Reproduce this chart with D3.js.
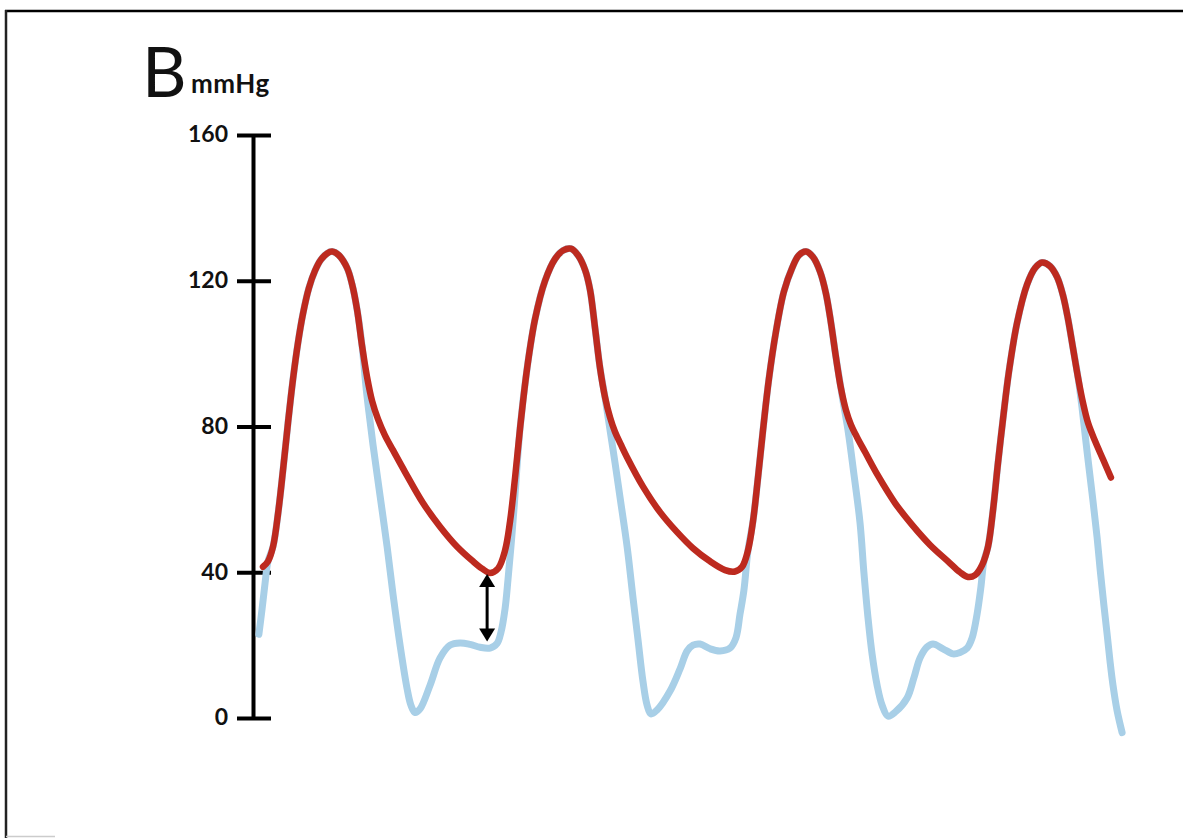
<!DOCTYPE html>
<html><head><meta charset="utf-8">
<script src="https://cdn.jsdelivr.net/npm/d3@7"></script>
<style>html,body{margin:0;padding:0;background:#fff;} svg{display:block;}</style>
</head><body>
<svg id="c" width="1183" height="838"></svg>
<script>
// ---- data: [time (ms), pressure (mmHg)] ----
const panelLabel = "B";
const unitLabel = "mmHg";
const yTicks = [0, 40, 80, 120, 160];
const yTickLabels = ["0", "40", "80", "120", "160"];

// red trace
const redTrace = [
  [17,41.5],[34,43],[51,47],[68,56],[85,68],[102,81],[119,93],[136,103],[153,111],[173,118],[194,122.8],[214,125.8],[235,127.5],[252,128],
  [275,127],[303,123.5],[320,119],[337,112],[354,102],[371,93.5],[388,87],[408,82],[432,77.5],[459,73.5],[500,67.5],[561,59],[619,52.5],[677,47],[731,43],[762,41],[789,39.8],
  [816,41],[840,46],[857,54],[874,66],[891,79.5],[915,96],[942,109.5],[976,120],[1010,126],[1037,128.3],[1064,128.8],
  [1088,127],[1112,123],[1129,117.5],[1146,107],[1163,96],[1180,88],[1197,82.5],[1214,78.5],[1234,75],[1255,71.5],[1309,63.5],[1367,56.5],[1425,51],[1479,46.6],[1537,43],[1588,40.6],[1622,40.2],
  [1646,41.5],[1666,46],[1683,54],[1700,66],[1717,79],[1737,93],[1761,106],[1788,117],[1816,123.5],[1839,127],[1863,128],
  [1887,126.5],[1911,122.5],[1931,116.5],[1948,108.5],[1965,99],[1982,90.5],[1999,84.5],[2016,80.5],[2037,77],[2064,73],[2108,66.5],[2166,59],[2224,53],[2285,47.5],[2346,43],[2387,40],[2414,38.7],[2438,39.2],
  [2462,42],[2482,47],[2499,57],[2516,70],[2533,82],[2553,95],[2581,108.5],[2615,119],[2642,123.5],[2666,125],
  [2693,124],[2717,121],[2737,116],[2754,109.5],[2771,101.5],[2788,93.5],[2805,86.5],[2822,81],[2846,76],[2873,71],[2900,66]
];

// blue trace
const blueTrace = [
  [3,23],[14,30],[24,37],[34,43],[51,47],[68,56],[85,68],[102,81],[119,93],[136,103],[153,111],[173,118],[194,122.8],[214,125.8],[235,127.5],[252,128],
  [275,127],[303,123.5],[320,119],[337,112],[354,102],
  [367,91],[377,84],[391,75],[415,61],[439,47],[459,34],[483,20],[507,8],[520,3.5],[534,1.5],[551,2.5],[585,9],[619,16.5],[653,20],[687,20.6],[721,20.2],[755,19.4],[789,19.2],[813,20.5],[826,23.5],[840,30],[850,38],[860,47],[870,57],
  [891,79.5],[915,96],[942,109.5],[976,120],[1010,126],[1037,128.3],[1064,128.8],[1088,127],[1112,123],[1129,117.5],[1146,107],[1163,96],[1180,88],
  [1197,79],[1214,70],[1231,60.5],[1255,47],[1275,33],[1292,21.5],[1309,10],[1323,3.5],[1336,1.1],[1357,2.2],[1401,7.4],[1435,13.5],[1459,18.4],[1479,20],[1503,20.3],[1537,19],[1571,18.4],[1605,19.2],[1625,22],[1639,28.6],[1652,35],
  [1666,46],[1683,54],[1700,66],[1717,79],[1737,93],[1761,106],[1788,117],[1816,123.5],[1839,127],[1863,128],[1887,126.5],[1911,122.5],[1931,116.5],[1948,108.5],[1965,99],[1982,90.5],
  [1989,87],[2006,79],[2026,67],[2047,53.5],[2060,40],[2074,27.5],[2088,17.5],[2105,9],[2122,3.5],[2142,0.5],[2169,1.8],[2207,5.5],[2230,11],[2251,16.5],[2275,19.5],[2295,20.3],[2329,19],[2363,17.6],[2387,18],[2411,19.2],[2428,22],[2445,28.6],[2458,36],[2468,43],
  [2482,47],[2499,57],[2516,70],[2533,82],[2553,95],[2581,108.5],[2615,119],[2642,123.5],[2666,125],[2693,124],[2717,121],[2737,116],[2754,109.5],[2771,101.5],[2788,93.5],
  [2802,85],[2819,73],[2839,59.5],[2853,49.5],[2863,41],[2876,31],[2887,23],[2897,15.5],[2907,9],[2921,2],[2938,-4]
];

// double-headed arrow marking the diastolic gap
const arrowTime = 779;
const arrowRange = [39.5, 21];

// ---- drawing ----
const svg = d3.select("#c");
const W = 1183, H = 838;
svg.append("rect").attr("width", W).attr("height", H).attr("fill", "#fff");

// frame remnants
svg.append("line").attr("x1", 5).attr("x2", W).attr("y1", 11).attr("y2", 11)
  .attr("stroke", "#000").attr("stroke-width", 2.5);
svg.append("line").attr("x1", 6).attr("x2", 6).attr("y1", 10).attr("y2", H)
  .attr("stroke", "#222").attr("stroke-width", 2.5);
svg.append("line").attr("x1", 6).attr("x2", 55).attr("y1", 836.5).attr("y2", 836.5)
  .attr("stroke", "#ccc").attr("stroke-width", 1.5);

const x = d3.scaleLinear().domain([0, 3000]).range([258, 258 + 3000 / 3.4]);
const y = d3.scaleLinear().domain([0, 160]).range([718, 135]);

const axisX = 253;
const axis = d3.axisLeft(y)
  .tickValues(yTicks)
  .tickFormat((d, i) => yTickLabels[i])
  .tickSizeInner(16)
  .tickSizeOuter(0)
  .tickPadding(10);

const ag = svg.append("g").attr("transform", `translate(${axisX},0)`).call(axis);
ag.select(".domain").attr("stroke", "#000").attr("stroke-width", 4);
ag.selectAll(".tick line").attr("x1", -16).attr("x2", 18)
  .attr("stroke", "#000").attr("stroke-width", 4);
ag.selectAll(".tick text")
  .attr("x", -25)
  .attr("dy", "0.3em")
  .attr("fill", "#111")
  .style("font-family", "Lato, 'Open Sans', sans-serif")
  .style("font-weight", "bold")
  .style("font-size", "23px");

// Panel label
svg.append("text").attr("x", 142).attr("y", 97)
  .style("font-family", "Lato, 'Open Sans', sans-serif")
  .style("font-size", "69px").attr("fill", "#111").text(panelLabel);
svg.append("text").attr("x", 191).attr("y", 93)
  .style("font-family", "Lato, 'Open Sans', sans-serif")
  .style("font-weight", "bold").style("letter-spacing", "0.5px")
  .style("font-size", "26px").attr("fill", "#111").text(unitLabel);

const redData = redTrace.map(([t, v]) => ({t, v}));
const blueData = blueTrace.map(([t, v]) => ({t, v}));

const line = d3.line()
  .x(d => x(d.t)).y(d => y(d.v))
  .curve(d3.curveCatmullRom.alpha(0.5));

svg.append("path").datum(blueData)
  .attr("d", line).attr("fill", "none")
  .attr("stroke", "#a8cfe7").attr("stroke-width", 7)
  .attr("stroke-linecap", "round").attr("stroke-linejoin", "round");

svg.append("path").datum(redData)
  .attr("d", line).attr("fill", "none")
  .attr("stroke", "#bd2a1f").attr("stroke-width", 6.5)
  .attr("stroke-linecap", "round").attr("stroke-linejoin", "round");

// arrow
const ax = x(arrowTime), ay1 = y(arrowRange[0]), ay2 = y(arrowRange[1]);
const hw = 8, hh = 13;
svg.append("line").attr("x1", ax).attr("x2", ax).attr("y1", ay1 + hh - 1).attr("y2", ay2 - hh + 1)
  .attr("stroke", "#000").attr("stroke-width", 3);
svg.append("path")
  .attr("d", `M${ax},${ay1} L${ax - hw},${ay1 + hh} L${ax + hw},${ay1 + hh} Z`)
  .attr("fill", "#000");
svg.append("path")
  .attr("d", `M${ax},${ay2} L${ax - hw},${ay2 - hh} L${ax + hw},${ay2 - hh} Z`)
  .attr("fill", "#000");
</script>
</body></html>
